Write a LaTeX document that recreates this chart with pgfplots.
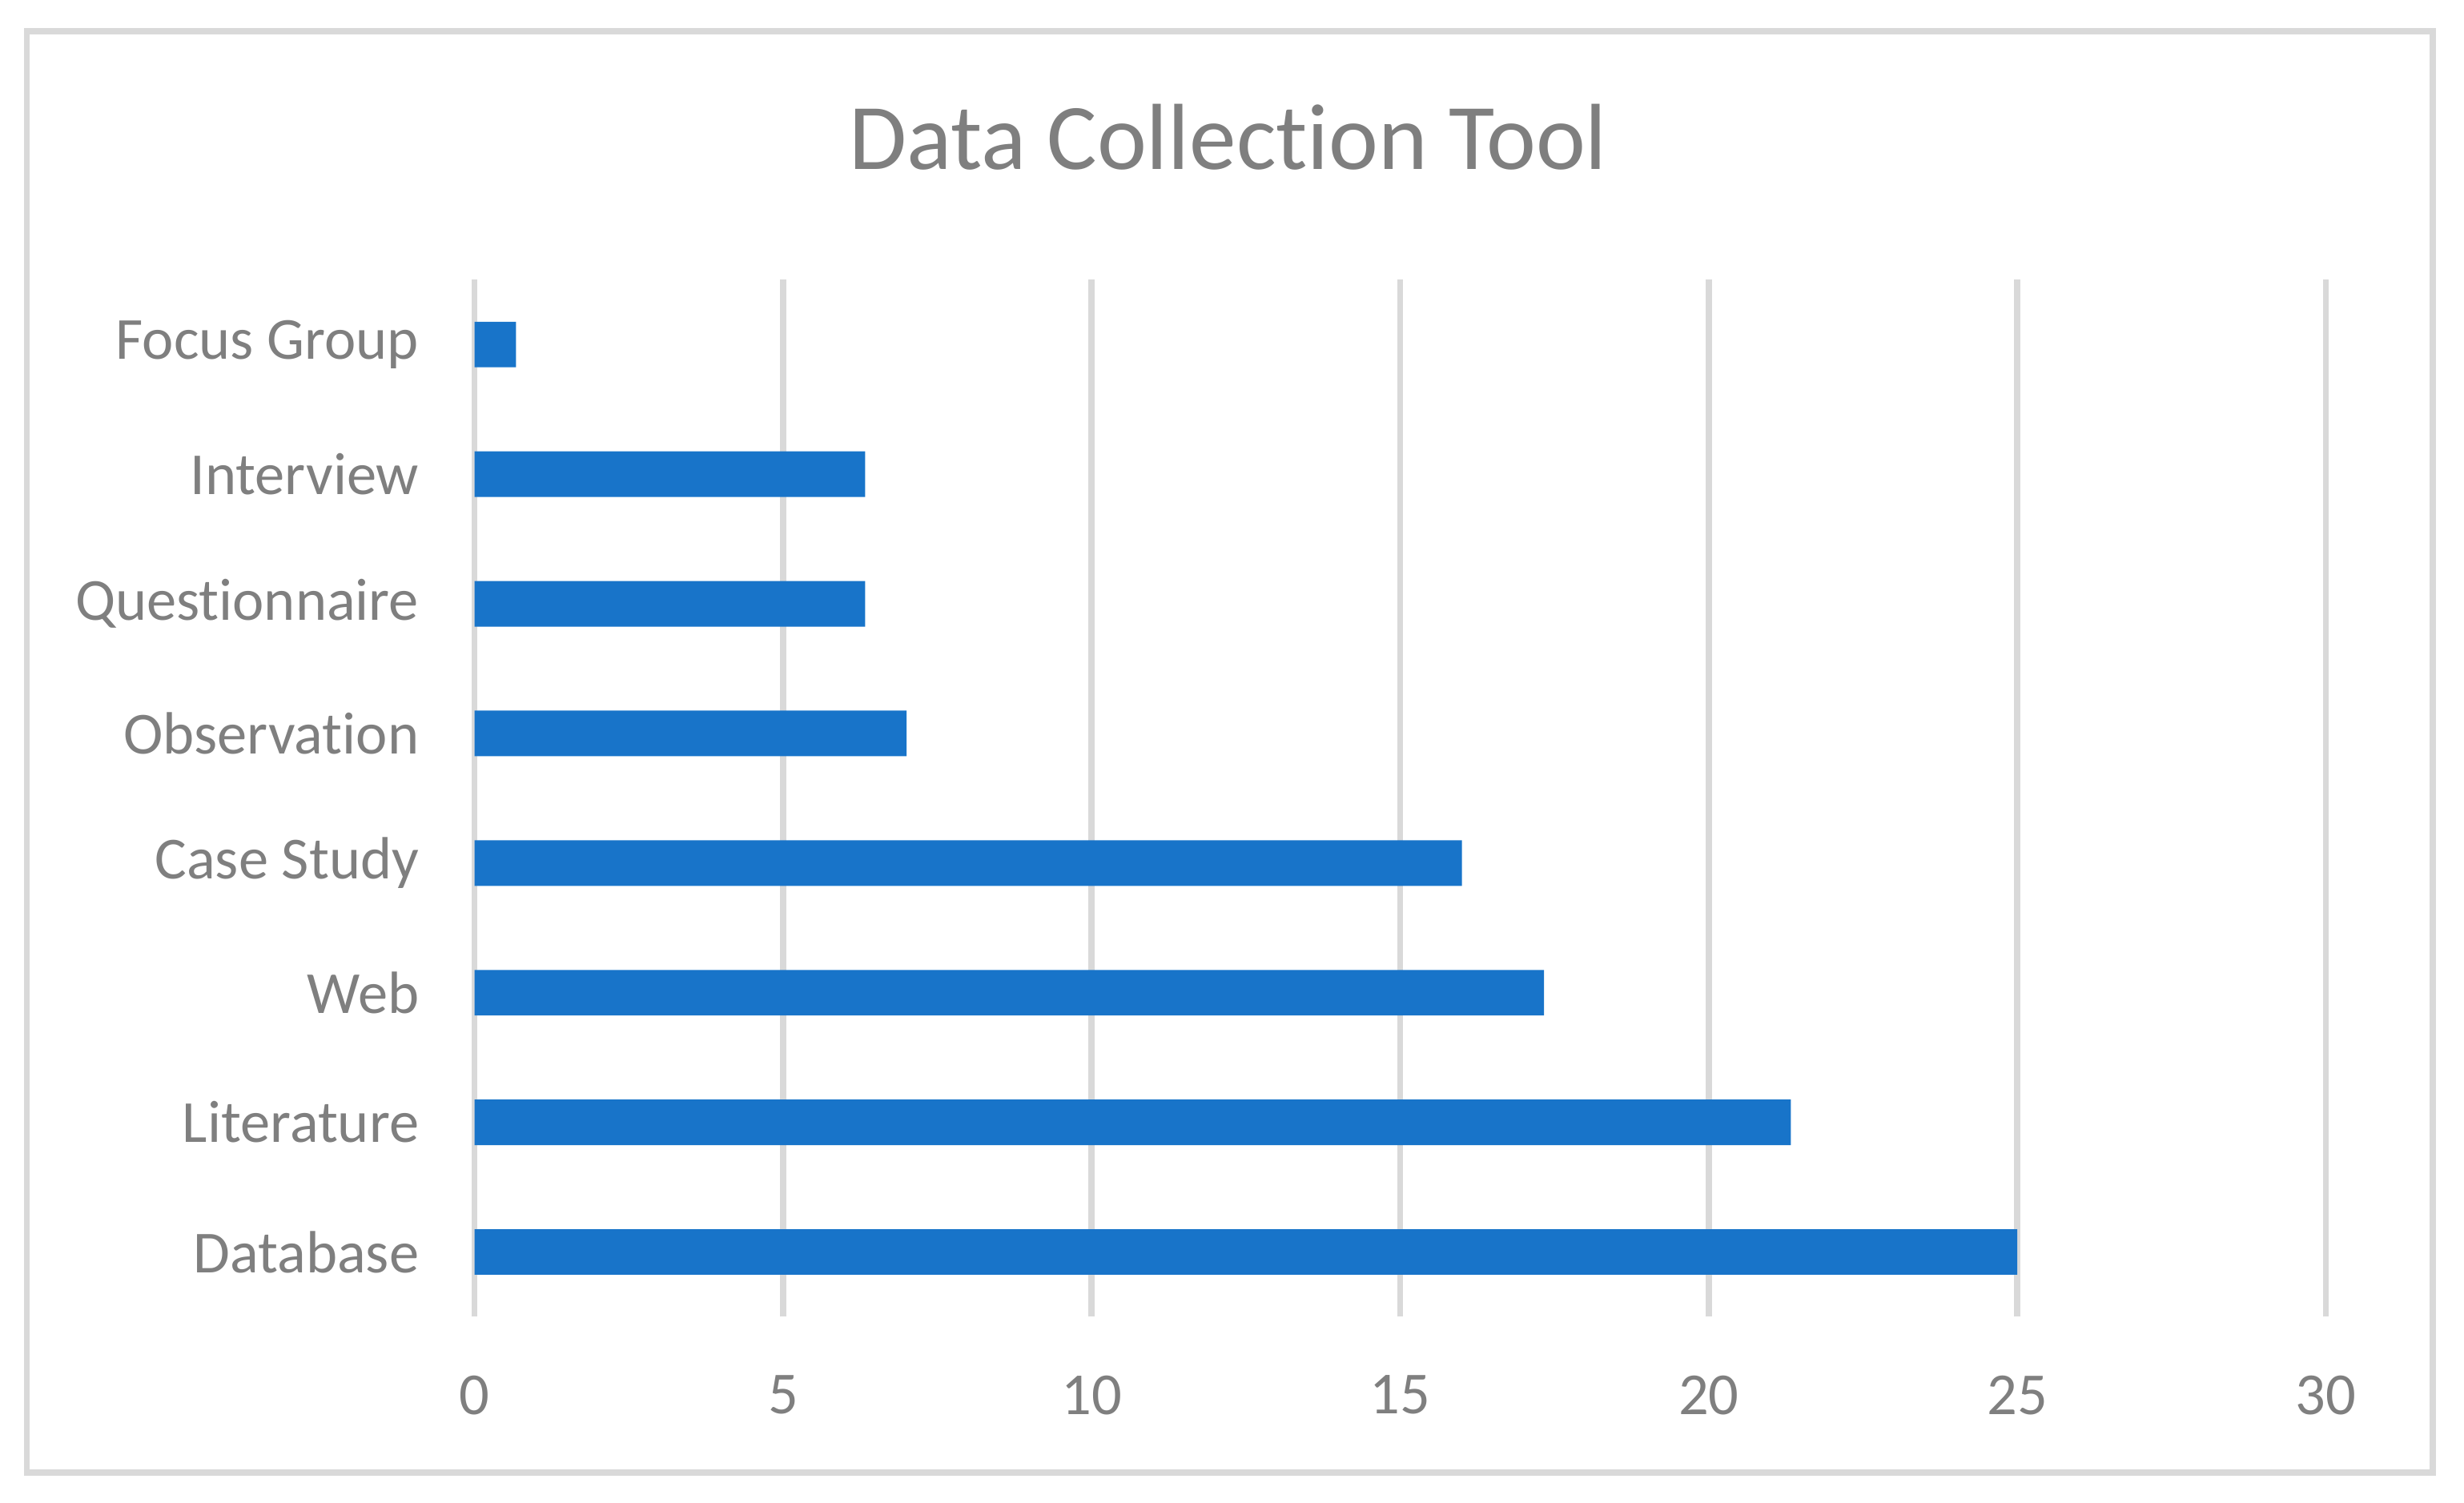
\documentclass[border=0pt]{standalone}
\usepackage{pgfplots}
\pgfplotsset{compat=1.18}
\usepackage{fontspec}
\setmainfont{Carlito}[Ligatures=NoCommon]
\definecolor{barblue}{HTML}{1874C9}
\definecolor{gridgray}{HTML}{D9D9D9}
\definecolor{txtgray}{HTML}{7F7F7F}
\begin{document}
\begin{tikzpicture}
  % canvas: 1 unit = 100 px of the shrunk reference
  \path (0,0) rectangle (15.68,9.56);
  \draw[gridgray, line width=1.1pt] (0.17,0.19) rectangle (15.48,9.36);
  \node[txtgray, anchor=base, font=\fontsize{17}{20}\selectfont] at (7.815,8.48) {Data Collection Tool};
  \begin{axis}[
    at={(3.02cm,1.18cm)}, anchor=south west,
    scale only axis,
    width=11.78cm, height=6.60cm,
    xbar, bar width=0.29cm,
    xmin=0, xmax=30,
    ymin=-0.5, ymax=7.5,
    xtick={0,5,...,30},
    ytick={0,...,7},
    yticklabels={Database,Literature,Web,Case Study,Observation,Questionnaire,Interview,Focus Group},
    axis line style={draw=none},
    major tick style={draw=none},
    xmajorgrids,
    grid style={gridgray, line width=1.1pt},
    ticklabel style={font=\fontsize{10.8}{13}\selectfont, text=txtgray},
    /pgf/number format/assume math mode=true,
    xticklabel style={yshift=-2.5mm},
    yticklabel style={xshift=-0.8mm},
  ]
  \addplot[fill=barblue, draw=none] coordinates {
    (25,0) (21.33,1) (17.33,2) (16,3) (7,4) (6.33,5) (6.33,6) (0.67,7)
  };
  \end{axis}
\end{tikzpicture}
\end{document}
